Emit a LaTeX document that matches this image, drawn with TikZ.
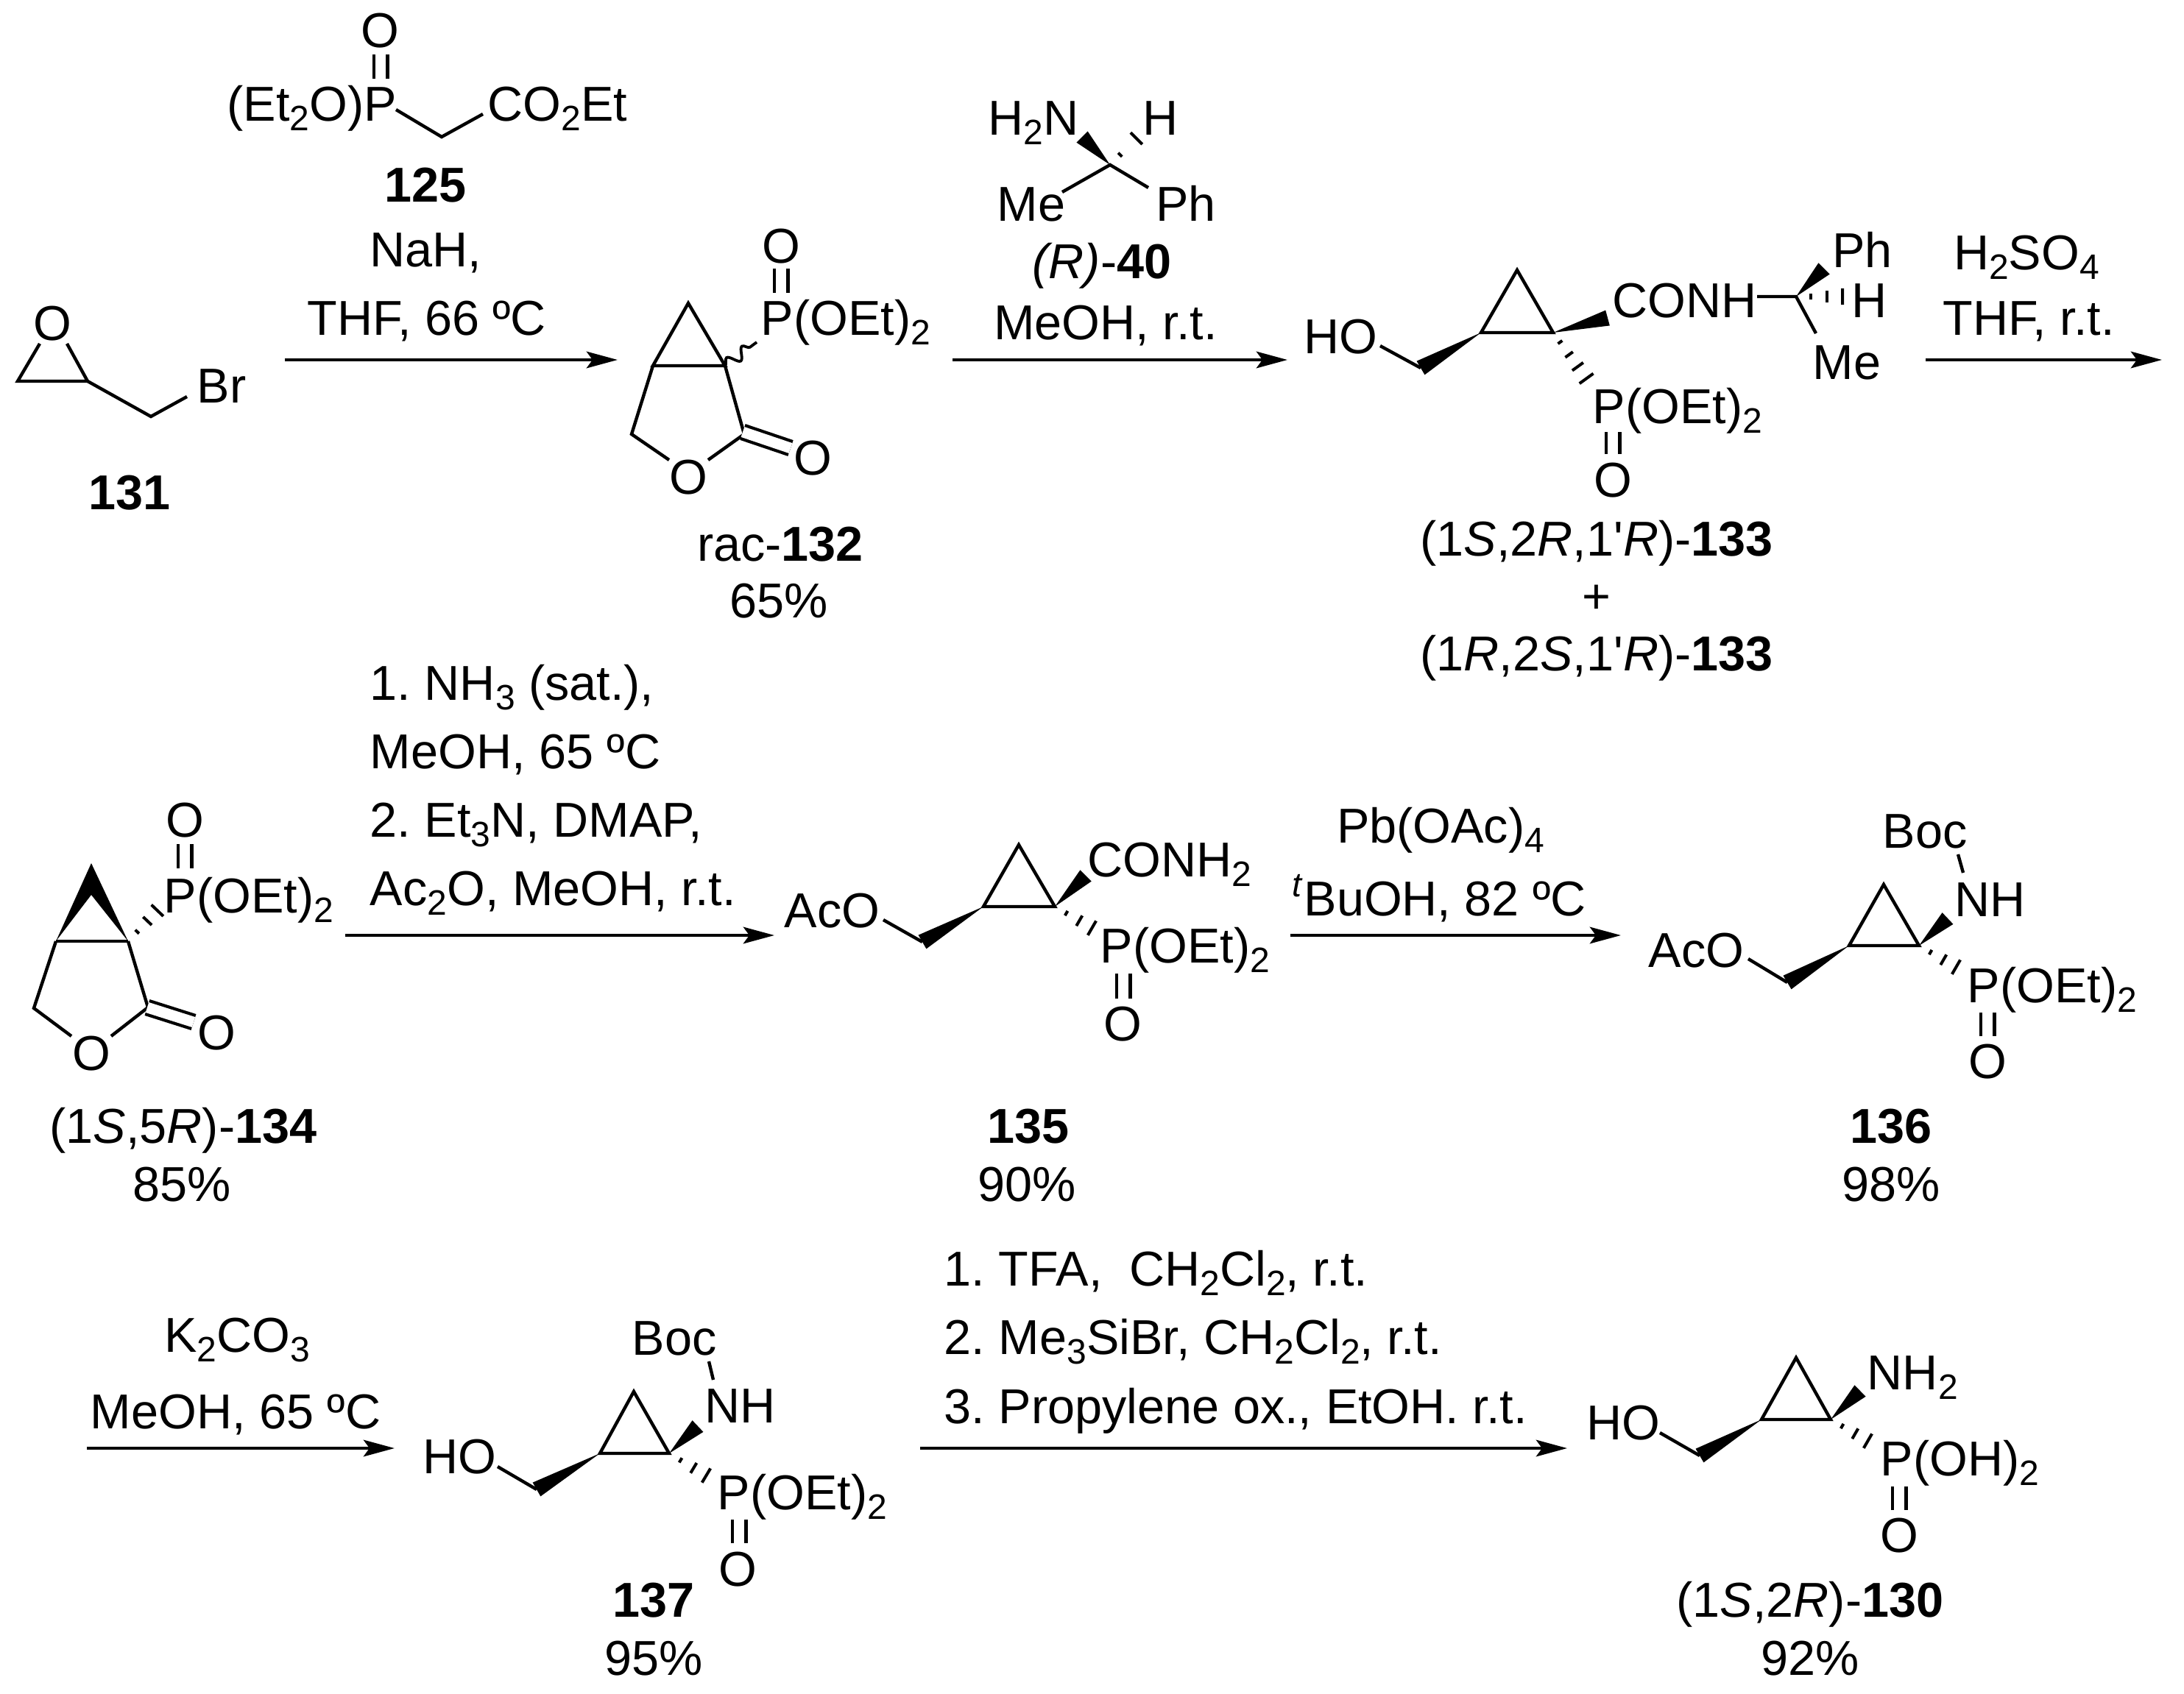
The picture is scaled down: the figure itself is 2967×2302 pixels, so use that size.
\documentclass[tikz,border=0pt]{standalone}
\usepackage{fontspec}
\setmainfont{Liberation Sans}
\usetikzlibrary{calc,arrows.meta,decorations.pathmorphing}
\newcommand{\sbs}[1]{\raisebox{-3.3pt}{\fontsize{12}{12}\selectfont #1}}
\newcommand{\wedgebond}[2]{\fill (#1) -- ($(#2)!2.7pt!90:(#1)$) -- ($(#2)!2.7pt!-90:(#1)$) -- cycle;}
\newcommand{\hashbond}[3][0.3/0.9pt,0.64/2pt,0.97/2.8pt]{\foreach \t/\w in {#1}
  {\draw[hash] ($($(#2)!\t!(#3)$)!\w!90:(#3)$) -- ($($(#2)!\t!(#3)$)!\w!-90:(#3)$);}}
\tikzset{
  txt/.style={inner sep=0pt,anchor=base,yshift=-6pt,font=\fontsize{16.65}{20}\selectfont},
  txtw/.style={txt,anchor=base west},
  bond/.style={line width=1.1pt,line join=miter},
  hash/.style={line width=1pt},
  dbl/.style={line width=1.05pt,double,double distance=3.65pt},
  wavy/.style={line width=0.95pt,decorate,decoration={snake,amplitude=1.9pt,segment length=6.5pt}},
  rxn/.style={line width=1.2pt,-{Stealth[length=10.5pt,width=5.6pt,inset=2pt]}}
}
\begin{document}
\frenchspacing
\begin{tikzpicture}[x=0.25pt,y=-0.25pt]
  \useasboundingbox (0,0) rectangle (2967,2302);

  \node[txt] (o125) at (516,41) {O};
  \node[txtw] (p125) at (308,140) {(Et\sbs{2}O)P};
  \node[txtw] (co125) at (662,140) {CO\sbs{2}Et};
  \coordinate (dp125) at (517,107);
  \coordinate (do125) at (517,74);
  \coordinate (b125a) at (538,149);
  \coordinate (b125b) at (600,186);
  \coordinate (b125c) at (656,155);
  \draw[dbl] (dp125) -- (do125);
  \draw[bond] (b125a) -- (b125b) -- (b125c);
  \node[txt] (l125) at (578,250) {\textbf{125}};
  \node[txt] (r1a) at (578,338) {NaH,};
  \node[txt] (r1b) at (580,431) {THF, 66 ºC};

  \node[txt] (o131) at (71,438) {O};
  \node[txt] (br131) at (301,523) {Br};
  \node[txt] (l131) at (176,668) {\textbf{131}};
  \coordinate (a131) at (54,467);
  \coordinate (b131) at (24,518);
  \coordinate (c131) at (119,518);
  \coordinate (d131) at (91,467);
  \coordinate (e131) at (205,566);
  \coordinate (f131) at (254,539);
  \draw[bond] (a131) -- (b131) -- (c131) -- (d131);
  \draw[bond] (c131) -- (e131) -- (f131);

  \coordinate (s1) at (387,489);
  \coordinate (e1) at (839,489);
  \draw[rxn] (s1) -- (e1);

  \node[txt] (o132) at (935,647) {O};
  \node[txt] (oc132) at (1104,621) {O};
  \node[txtw] (p132) at (1033,431) {P(OEt)\sbs{2}};
  \node[txt] (op132) at (1061,333) {O};
  \node[txt] (l132) at (1060,738) {rac-\textbf{132}};
  \node[txt] (y132) at (1058,815) {65\%};
  \coordinate (top132) at (935,412);
  \coordinate (lt132) at (887,497);
  \coordinate (rt132) at (985,497);
  \coordinate (bl132) at (858,590);
  \coordinate (co132) at (1011,590);
  \coordinate (ol132) at (909,625);
  \coordinate (or132) at (962,625);
  \coordinate (da132) at (1009,587);
  \coordinate (db132) at (1074,609);
  \coordinate (w132) at (1028,465);
  \coordinate (dp132) at (1061,398);
  \coordinate (do132) at (1061,365);
  \draw[bond] (lt132) -- (top132) -- (rt132) -- cycle;
  \draw[bond] (lt132) -- (bl132) -- (ol132);
  \draw[bond] (rt132) -- (co132) -- (or132);
  \draw[dbl] (da132) -- (db132);
  \draw[wavy] (rt132) -- (w132);
  \draw[dbl] (dp132) -- (do132);

  \node[txtw] (nh40) at (1342,159) {H\sbs{2}N};
  \node[txt] (h40) at (1577,159) {H};
  \node[txt] (me40) at (1401,276) {Me};
  \node[txt] (ph40) at (1611,276) {Ph};
  \node[txt] (l40) at (1497,354) {\textit{(R)}-\textbf{40}};
  \node[txt] (r2) at (1502,437) {MeOH, r.t.};
  \coordinate (c40) at (1508,224);
  \coordinate (w40) at (1470,186);
  \coordinate (d40) at (1545,187);
  \coordinate (m40) at (1443,261);
  \coordinate (f40) at (1560,255);
  \wedgebond{c40}{w40}
  \hashbond[0.37/0.9pt,0.97/2.8pt]{c40}{d40}
  \draw[bond] (m40) -- (c40) -- (f40);

  \coordinate (s2) at (1294,489);
  \coordinate (e2) at (1749,489);
  \draw[rxn] (s2) -- (e2);

  \node[txt] (ho133) at (1821,456) {HO};
  \node[txtw] (co133) at (2190,407) {CONH};
  \node[txt] (ph133) at (2530,339) {Ph};
  \node[txt] (h133) at (2540,407) {H};
  \node[txt] (me133) at (2509,491) {Me};
  \node[txtw] (p133) at (2163,551) {P(OEt)\sbs{2}};
  \node[txt] (o133) at (2191,651) {O};
  \node[txt] (la133) at (2169,731) {(1\textit{S},2\textit{R},1\textquotesingle\textit{R})-\textbf{133}};
  \node[txt] (pl133) at (2169,809) {+};
  \node[txt] (lb133) at (2169,887) {(1\textit{R},2\textit{S},1\textquotesingle\textit{R})-\textbf{133}};
  \coordinate (top133) at (2061,367);
  \coordinate (lt133) at (2012,452);
  \coordinate (rt133) at (2110,452);
  \coordinate (ch133) at (1930,500);
  \coordinate (oh133) at (1875,470);
  \coordinate (wa133) at (2184,432);
  \coordinate (n133) at (2387,403);
  \coordinate (c133) at (2440,403);
  \coordinate (wb133) at (2478,365);
  \coordinate (hh133) at (2505,403);
  \coordinate (m133) at (2467,453);
  \coordinate (hp133) at (2157,517);
  \coordinate (dp133) at (2191,617);
  \coordinate (do133) at (2191,587);
  \draw[bond] (lt133) -- (top133) -- (rt133) -- cycle;
  \wedgebond{lt133}{ch133}
  \draw[bond] (ch133) -- (oh133);
  \wedgebond{rt133}{wa133}
  \draw[bond] (n133) -- (c133) -- (m133);
  \wedgebond{c133}{wb133}
  \hashbond{c133}{hh133}
  \hashbond[0.2/0.9pt,0.46/1.6pt,0.71/2.3pt,0.96/2.9pt]{rt133}{hp133}
  \draw[dbl] (dp133) -- (do133);

  \node[txt] (r3a) at (2753,342) {H\sbs{2}SO\sbs{4}};
  \node[txt] (r3b) at (2756,431) {THF, r.t.};
  \coordinate (s3) at (2616,489);
  \coordinate (e3) at (2937,489);
  \draw[rxn] (s3) -- (e3);

  \node[txtw] (r4a) at (502,927) {1. NH\sbs{3} (sat.),};
  \node[txtw] (r4b) at (502,1020) {MeOH, 65 ºC};
  \node[txtw] (r4c) at (502,1113) {2. Et\sbs{3}N, DMAP,};
  \node[txtw] (r4d) at (502,1206) {Ac\sbs{2}O, MeOH, r.t.};

  \node[txt] (o134) at (124,1430) {O};
  \node[txt] (oc134) at (294,1402) {O};
  \node[txtw] (p134) at (222,1216) {P(OEt)\sbs{2}};
  \node[txt] (op134) at (251,1113) {O};
  \node[txt] (l134) at (249,1529) {(1\textit{S},5\textit{R})-\textbf{134}};
  \node[txt] (y134) at (247,1608) {85\%};
  \coordinate (top134) at (124,1173);
  \coordinate (in134) at (124,1216);
  \coordinate (lt134) at (76,1279);
  \coordinate (rt134) at (174,1279);
  \coordinate (bl134) at (46,1370);
  \coordinate (co134) at (201,1369);
  \coordinate (ol134) at (97,1408);
  \coordinate (or134) at (151,1408);
  \coordinate (da134) at (200,1369);
  \coordinate (db134) at (263,1389);
  \coordinate (hp134) at (215,1236);
  \coordinate (dp134) at (251,1180);
  \coordinate (do134) at (251,1147);
  \fill (lt134) -- (top134) -- (rt134) -- (in134) -- cycle;
  \draw[bond] (lt134) -- (rt134);
  \draw[bond] (lt134) -- (bl134) -- (ol134);
  \draw[bond] (rt134) -- (co134) -- (or134);
  \draw[dbl] (da134) -- (db134);
  \hashbond{rt134}{hp134}
  \draw[dbl] (dp134) -- (do134);

  \coordinate (s4) at (469,1271);
  \coordinate (e4) at (1052,1271);
  \draw[rxn] (s4) -- (e4);

  \node[txtw] (aco135) at (1065,1236) {AcO};
  \node[txtw] (co135) at (1477,1167) {CONH\sbs{2}};
  \node[txtw] (p135) at (1494,1284) {P(OEt)\sbs{2}};
  \node[txt] (o135) at (1525,1390) {O};
  \node[txt] (l135) at (1397,1529) {\textbf{135}};
  \node[txt] (y135) at (1395,1608) {90\%};
  \coordinate (top135) at (1384,1148);
  \coordinate (lt135) at (1336,1232);
  \coordinate (rt135) at (1433,1232);
  \coordinate (ch135) at (1253,1280);
  \coordinate (oh135) at (1200,1250);
  \coordinate (wa135) at (1475,1190);
  \coordinate (hp135) at (1485,1262);
  \coordinate (dp135) at (1526,1357);
  \coordinate (do135) at (1526,1323);
  \draw[bond] (lt135) -- (top135) -- (rt135) -- cycle;
  \wedgebond{lt135}{ch135}
  \draw[bond] (ch135) -- (oh135);
  \wedgebond{rt135}{wa135}
  \hashbond{rt135}{hp135}
  \draw[dbl] (dp135) -- (do135);

  \node[txt] (r5a) at (1957,1121) {Pb(OAc)\sbs{4}};
  \node[txt] (r5b) at (1955,1220) {\textsuperscript{\textit{t}}BuOH, 82 ºC};
  \coordinate (s5) at (1753,1271);
  \coordinate (e5) at (2202,1271);
  \draw[rxn] (s5) -- (e5);

  \node[txtw] (aco136) at (2239,1290) {AcO};
  \node[txtw] (nh136) at (2655,1221) {NH};
  \node[txtw] (boc136) at (2557,1128) {Boc};
  \node[txtw] (p136) at (2672,1338) {P(OEt)\sbs{2}};
  \node[txt] (o136) at (2700,1441) {O};
  \node[txt] (l136) at (2569,1529) {\textbf{136}};
  \node[txt] (y136) at (2569,1608) {98\%};
  \coordinate (top136) at (2559,1202);
  \coordinate (lt136) at (2512,1285);
  \coordinate (rt136) at (2607,1285);
  \coordinate (ch136) at (2428,1335);
  \coordinate (oh136) at (2375,1303);
  \coordinate (wa136) at (2646,1248);
  \coordinate (ba136) at (2660,1161);
  \coordinate (bb136) at (2667,1186);
  \coordinate (hp136) at (2659,1315);
  \coordinate (dp136) at (2700,1408);
  \coordinate (do136) at (2700,1376);
  \draw[bond] (lt136) -- (top136) -- (rt136) -- cycle;
  \wedgebond{lt136}{ch136}
  \draw[bond] (ch136) -- (oh136);
  \wedgebond{rt136}{wa136}
  \draw[bond] (ba136) -- (bb136);
  \hashbond{rt136}{hp136}
  \draw[dbl] (dp136) -- (do136);

  \node[txt] (r6a) at (322,1813) {K\sbs{2}CO\sbs{3}};
  \node[txt] (r6b) at (320,1917) {MeOH, 65 ºC};
  \coordinate (s6) at (118,1968);
  \coordinate (e6) at (536,1968);
  \draw[rxn] (s6) -- (e6);

  \node[txtw] (ho137) at (574,1978) {HO};
  \node[txtw] (nh137) at (957,1909) {NH};
  \node[txtw] (boc137) at (858,1817) {Boc};
  \node[txtw] (p137) at (974,2027) {P(OEt)\sbs{2}};
  \node[txt] (o137) at (1002,2131) {O};
  \node[txt] (l137) at (888,2173) {\textbf{137}};
  \node[txt] (y137) at (888,2252) {95\%};
  \coordinate (top137) at (861,1891);
  \coordinate (lt137) at (815,1975);
  \coordinate (rt137) at (909,1975);
  \coordinate (ch137) at (729,2024);
  \coordinate (oh137) at (676,1993);
  \coordinate (wa137) at (948,1938);
  \coordinate (ba137) at (963,1850);
  \coordinate (bb137) at (969,1875);
  \coordinate (hp137) at (961,2006);
  \coordinate (dp137) at (1004,2097);
  \coordinate (do137) at (1004,2065);
  \draw[bond] (lt137) -- (top137) -- (rt137) -- cycle;
  \wedgebond{lt137}{ch137}
  \draw[bond] (ch137) -- (oh137);
  \wedgebond{rt137}{wa137}
  \draw[bond] (ba137) -- (bb137);
  \hashbond{rt137}{hp137}
  \draw[dbl] (dp137) -- (do137);

  \node[txtw] (r7a) at (1282,1723) {1. TFA,\ \ CH\sbs{2}Cl\sbs{2}, r.t.};
  \node[txtw] (r7b) at (1282,1816) {2. Me\sbs{3}SiBr, CH\sbs{2}Cl\sbs{2}, r.t.};
  \node[txtw] (r7c) at (1282,1910) {3. Propylene ox., EtOH. r.t.};
  \coordinate (s7) at (1250,1968);
  \coordinate (e7) at (2129,1968);
  \draw[rxn] (s7) -- (e7);

  \node[txtw] (ho130) at (2155,1932) {HO};
  \node[txtw] (nh130) at (2536,1864) {NH\sbs{2}};
  \node[txtw] (p130) at (2554,1981) {P(OH)\sbs{2}};
  \node[txt] (o130) at (2580,2085) {O};
  \node[txt] (l130) at (2459,2173) {(1\textit{S},2\textit{R})-\textbf{130}};
  \node[txt] (y130) at (2459,2252) {92\%};
  \coordinate (top130) at (2440,1845);
  \coordinate (lt130) at (2393,1929);
  \coordinate (rt130) at (2487,1929);
  \coordinate (ch130) at (2309,1978);
  \coordinate (oh130) at (2255,1947);
  \coordinate (wa130) at (2527,1890);
  \coordinate (hp130) at (2539,1959);
  \coordinate (dp130) at (2580,2052);
  \coordinate (do130) at (2580,2020);
  \draw[bond] (lt130) -- (top130) -- (rt130) -- cycle;
  \wedgebond{lt130}{ch130}
  \draw[bond] (ch130) -- (oh130);
  \wedgebond{rt130}{wa130}
  \hashbond{rt130}{hp130}
  \draw[dbl] (dp130) -- (do130);
\end{tikzpicture}
\end{document}
